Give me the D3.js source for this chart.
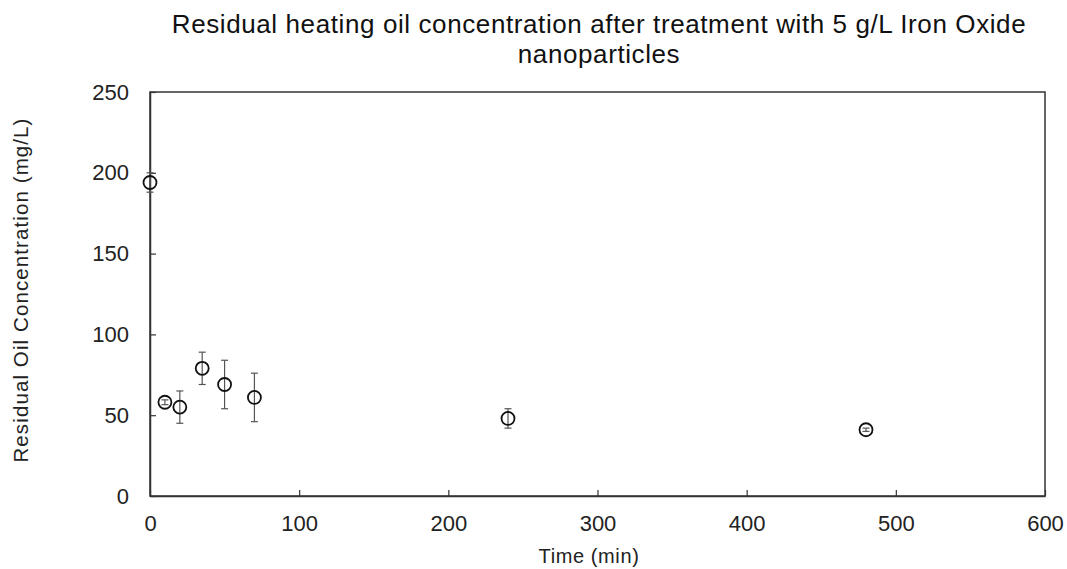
<!DOCTYPE html>
<html>
<head>
<meta charset="utf-8">
<script src="https://cdn.jsdelivr.net/npm/d3@7"></script>
<style>
  body { margin: 0; background: #fff; }
  svg { font-family: "Liberation Sans", Arial, sans-serif; }
</style>
</head>
<body>
<svg id="chart" width="1067" height="569"></svg>
<script>
const times = [0, 10, 20, 35, 50, 70, 240, 480]
const concentrations = [194, 58, 55, 79, 69, 61, 48, 41]
const errors = [6, 1.5, 10, 10, 15, 15, 6, 1]
const xTicks = [0, 100, 200, 300, 400, 500, 600]
const yTicks = [0, 50, 100, 150, 200, 250]

const plotLeft = 150
const plotRight = 1045
const plotTop = 92
const plotBottom = 496

const svg = d3.select("#chart")

const xScale = d3.scaleLinear().domain([0, 600]).range([plotLeft, plotRight])
const yScale = d3.scaleLinear().domain([0, 250]).range([plotBottom, plotTop])

// frame
svg.append("rect")
  .attr("x", plotLeft)
  .attr("y", plotTop)
  .attr("width", plotRight - plotLeft)
  .attr("height", plotBottom - plotTop)
  .attr("fill", "none")
  .attr("stroke", "#333")
  .attr("stroke-width", 1.5)

// axes with inward ticks
const xAxis = d3.axisBottom(xScale)
  .tickValues(xTicks)
  .tickSizeInner(-6)
  .tickSizeOuter(0)
  .tickPadding(19.5)

const yAxis = d3.axisLeft(yScale)
  .tickValues(yTicks)
  .tickSizeInner(-6)
  .tickSizeOuter(0)
  .tickPadding(21)

const gx = svg.append("g")
  .attr("transform", `translate(0, ${plotBottom})`)
  .call(xAxis)
gx.select(".domain").attr("stroke", "#333").attr("stroke-width", 1.5)
gx.selectAll(".tick line").attr("stroke", "#333").attr("stroke-width", 1.2)
gx.selectAll(".tick text")
  .attr("font-size", 22)
  .attr("fill", "#222")
  .attr("font-family", "Liberation Sans, Arial, sans-serif")

const gy = svg.append("g")
  .attr("transform", `translate(${plotLeft}, 0)`)
  .call(yAxis)
gy.select(".domain").attr("stroke", "#333").attr("stroke-width", 1.5)
gy.selectAll(".tick line").attr("stroke", "#333").attr("stroke-width", 1.2)
gy.selectAll(".tick text")
  .attr("font-size", 22)
  .attr("fill", "#222")
  .attr("font-family", "Liberation Sans, Arial, sans-serif")

// error bars
const bars = svg.append("g")
times.forEach((t, i) => {
  const x = xScale(t)
  const y0 = yScale(concentrations[i] - errors[i])
  const y1 = yScale(concentrations[i] + errors[i])
  bars.append("line")
    .attr("x1", x).attr("x2", x).attr("y1", y0).attr("y2", y1)
    .attr("stroke", "#555").attr("stroke-width", 1.2)
  ;[y0, y1].forEach(y => {
    bars.append("line")
      .attr("x1", x - 3.5).attr("x2", x + 3.5).attr("y1", y).attr("y2", y)
      .attr("stroke", "#555").attr("stroke-width", 1.2)
  })
})

// points
svg.append("g")
  .selectAll("circle")
  .data(times)
  .enter()
  .append("circle")
  .attr("cx", d => xScale(d))
  .attr("cy", (d, i) => yScale(concentrations[i]))
  .attr("r", 6.5)
  .attr("fill", "none")
  .attr("stroke", "#111")
  .attr("stroke-width", 1.8)

// title
const title = svg.append("text")
  .attr("text-anchor", "middle")
  .attr("font-size", 26)
  .attr("letter-spacing", 0.6)
  .attr("fill", "#111")
title.append("tspan")
  .attr("x", 599)
  .attr("y", 33)
  .text("Residual heating oil concentration after treatment with 5 g/L Iron Oxide")
title.append("tspan")
  .attr("x", 599)
  .attr("y", 63)
  .text("nanoparticles")

// axis titles
svg.append("text")
  .attr("x", 589)
  .attr("y", 563)
  .attr("text-anchor", "middle")
  .attr("font-size", 20)
  .attr("letter-spacing", 0.6)
  .attr("fill", "#222")
  .text("Time (min)")

svg.append("text")
  .attr("transform", `translate(28, 290) rotate(-90)`)
  .attr("text-anchor", "middle")
  .attr("font-size", 20.5)
  .attr("letter-spacing", 1.1)
  .attr("fill", "#222")
  .text("Residual Oil Concentration (mg/L)")
</script>
</body>
</html>
